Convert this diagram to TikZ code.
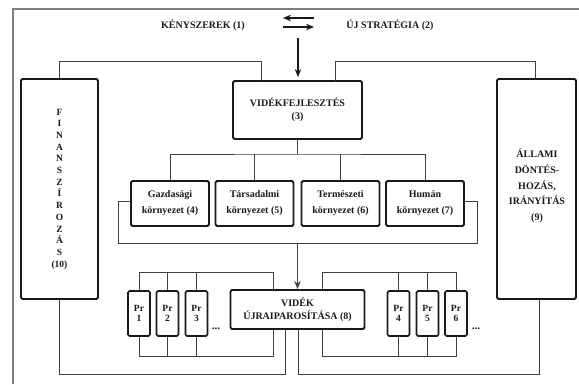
\documentclass[tikz,border=0pt]{standalone}
\usepackage{fontspec}
\setmainfont{Liberation Serif}
\usetikzlibrary{arrows.meta,calc}
\begin{document}
\begin{tikzpicture}[x=1pt,y=-1pt,
  font=\bfseries\fontsize{10}{12}\selectfont,
  txt/.style={inner sep=0pt,text=black!90},
  box/.style={draw=black!90,line width=1.9pt,rounded corners=1.5pt,inner sep=0pt,align=center,text=black!90},
  conn/.style={draw=black!75,line width=1pt},
  arr/.style={conn,-{Stealth[length=8pt,width=6.5pt]}},
  frame/.style={draw=black!50,line width=1.4pt}]
\useasboundingbox (0,0) rectangle (579,384);
% outer frame
\coordinate (fbl) at (13,384);
\coordinate (ftl) at (13,9);
\coordinate (ftr) at (579,9);
\draw[frame] (fbl) -- (ftl) -- (ftr);
% top texts
\node[txt] (k1) at (203,25) {KÉNYSZEREK (1)};
\node[txt] (k2) at (390,25) {ÚJ STRATÉGIA (2)};
\coordinate (a1r) at (314,18); \coordinate (a1l) at (283,18);
\coordinate (a2l) at (283,27); \coordinate (a2r) at (314,27);
\draw[arr,draw=black!90,line width=1.4pt] (a1r) -- (a1l);
\draw[arr,draw=black!90,line width=1.4pt] (a2l) -- (a2r);
\coordinate (dtop) at (298,38); \coordinate (dbot) at (298,77);
\draw[arr,draw=black!90,line width=1.3pt] (dtop) -- (dbot);
% main boxes
\node[box,minimum width=77pt,minimum height=220pt] (fin) at (59.5,189) {};
\node[txt,align=center,font=\bfseries\fontsize{9.5}{11.7}\selectfont] (fint) at (59.5,189)
  {F\\I\\N\\A\\N\\S\\Z\\Í\\R\\O\\Z\\Á\\S\\(10)};
\node[box,minimum width=79pt,minimum height=220pt] (all) at (536.5,189) {};
\node[txt,align=center,font=\bfseries\fontsize{10}{15.7}\selectfont] (allt) at (537,186)
  {ÁLLAMI\\DÖNTÉS-\\HOZÁS,\\IRÁNYÍTÁS\\(9)};
\node[box,minimum width=129pt,minimum height=58pt,font=\bfseries\fontsize{10}{12.5}\selectfont] (vf) at (297.5,110) {VIDÉKFEJLESZTÉS\\(3)};
% environment boxes
\foreach \n/\x/\t in {e4/170/Gazdasági\\környezet (4),e5/254.5/Társadalmi\\környezet (5),e6/340.5/Természeti\\környezet (6),e7/425/Humán\\környezet (7)}{
  \node[box,minimum width=78pt,minimum height=45pt,font=\bfseries\fontsize{10}{16}\selectfont] (\n) at (\x,203.5) {\t};
}
% bus from vf to environment boxes
\coordinate (bus) at (297.5,154);
\draw[conn] (vf.south) -- (bus);
\draw[conn] (e4.north) |- (bus) -| (e7.north);
\draw[conn] (e5.north) -- (e5.north |- bus);
\draw[conn] (e6.north) -- (e6.north |- bus);
% vf to side boxes
\coordinate (vfl) at (261,81); \coordinate (vfr) at (335,81);
\coordinate (tl) at (59.5,61); \coordinate (tr) at (535,61);
\draw[conn] (fin.north) -- (tl) -- (tl -| vfl) -- (vfl);
\draw[conn] (vfr) -- (vfr |- tr) -- (tr) -- (tr |- all.north);
% bracket around environment boxes
\coordinate (bl1) at (118,201); \coordinate (bl2) at (118,243);
\coordinate (br1) at (477,201); \coordinate (br2) at (477,243);
\coordinate (bm) at (297.5,243);
\draw[conn] (e4.west |- bl1) -- (bl1) -- (bl2) -- (br2) -- (br1) -- (e7.east |- br1);
% rural reindustrialisation
\node[box,minimum width=134pt,minimum height=39pt,font=\bfseries\fontsize{10}{13}\selectfont] (vu) at (297.5,309.5) {VIDÉK\\ÚJRAIPAROSÍTÁSA (8)};
\draw[arr] (bm) -- (vu.north);
% Pr boxes
\foreach \n/\x/\t in {p1/139/1,p2/167.5/2,p3/196.5/3,p4/398.5/4,p5/427.5/5,p6/456/6}{
  \node[box,line width=1.7pt,minimum width=22pt,minimum height=45pt,font=\bfseries\fontsize{9.5}{10.5}\selectfont] (\n) at (\x,313.5) {Pr\\\t};
}
\node[txt,font=\bfseries\fontsize{11}{12}\selectfont] (dots1) at (216,329) {...};
\node[txt,font=\bfseries\fontsize{11}{12}\selectfont] (dots2) at (476,329) {...};
% Pr buses
\coordinate (lt) at (273,272); \coordinate (lb) at (273,356);
\coordinate (rt) at (322,272); \coordinate (rb) at (322,356);
\draw[conn] (p1.north) |- (lt) -- (lt |- vu.north);
\draw[conn] (p2.north) -- (p2.north |- lt);
\draw[conn] (p3.north) -- (p3.north |- lt);
\draw[conn] (p1.south) |- (lb) -- (lb |- vu.south);
\draw[conn] (p2.south) -- (p2.south |- lb);
\draw[conn] (p3.south) -- (p3.south |- lb);
\draw[conn] (p6.north) |- (rt) -- (rt |- vu.north);
\draw[conn] (p4.north) -- (p4.north |- rt);
\draw[conn] (p5.north) -- (p5.north |- rt);
\draw[conn] (p6.south) |- (rb) -- (rb |- vu.south);
\draw[conn] (p4.south) -- (p4.south |- rb);
\draw[conn] (p5.south) -- (p5.south |- rb);
% bottom connections to side boxes
\coordinate (bl) at (285,374); \coordinate (brr) at (298,374);
\coordinate (bre) at (539,374);
\draw[conn] (fin.south) |- (bl) -- (bl |- vu.south);
\draw[conn] (brr |- vu.south) -- (brr) -- (bre) -- (bre |- all.south);
\end{tikzpicture}
\end{document}
